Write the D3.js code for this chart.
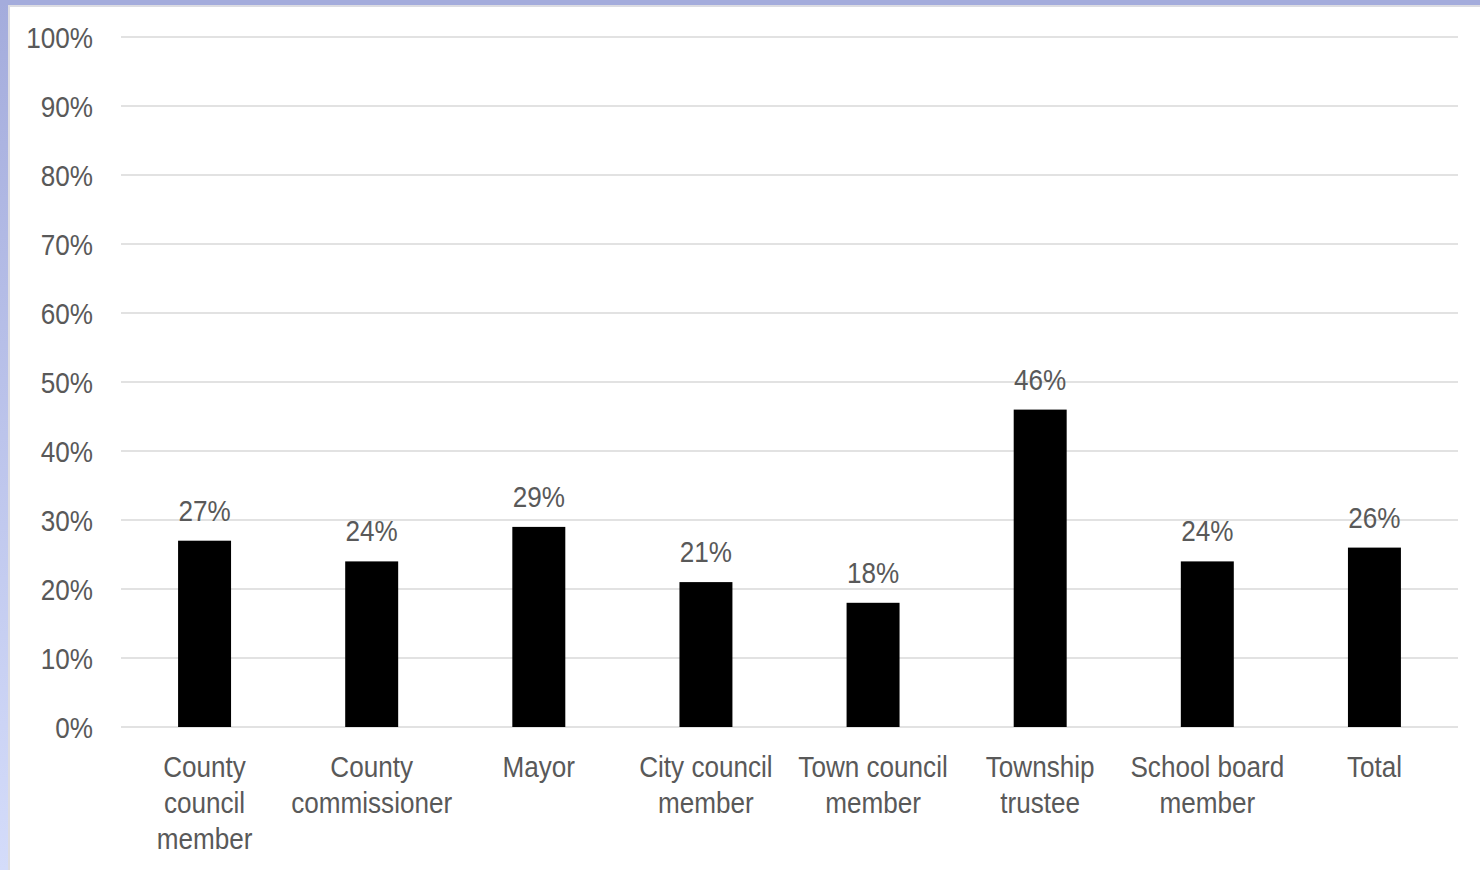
<!DOCTYPE html>
<html><head><meta charset="utf-8">
<script src="https://cdn.jsdelivr.net/npm/d3@7"></script>
<style>
html,body{margin:0;padding:0;background:#fff;}
svg{display:block;}
text{font-family:"Liberation Sans Narrow","Arial Narrow","Liberation Sans",Arial,sans-serif;fill:#595959;}
</style></head><body>
<svg id="c" width="1480" height="870"></svg>
<script>
const categories = [["County","council","member"],["County","commissioner"],["Mayor"],["City council","member"],["Town council","member"],["Township","trustee"],["School board","member"],["Total"]];
const values = [27,24,29,21,18,46,24,26];
const yTicks = [0,10,20,30,40,50,60,70,80,90,100];

const FS = 30, SX = 0.87;
const svg = d3.select("#c");
const defs = svg.append("defs");
const g1 = defs.append("linearGradient").attr("id","lg").attr("x1",0).attr("y1",0).attr("x2",0).attr("y2",1);
g1.append("stop").attr("offset","0%").attr("stop-color","#a4acdc");
g1.append("stop").attr("offset","100%").attr("stop-color","#d4dcfa");

svg.append("rect").attr("x",0).attr("y",0).attr("width",1480).attr("height",870).attr("fill","#fff");
svg.append("rect").attr("x",0).attr("y",0).attr("width",8).attr("height",870).attr("fill","url(#lg)");
svg.append("rect").attr("x",0).attr("y",0).attr("width",1480).attr("height",5).attr("fill","#a4acdc");
svg.append("rect").attr("x",8).attr("y",5).attr("width",1472).attr("height",2).attr("fill","#dcdce2");
svg.append("rect").attr("x",8).attr("y",5).attr("width",2).attr("height",865).attr("fill","#dcdce2");

const x = d3.scaleBand().domain(d3.range(categories.length)).range([121,1458]).paddingInner(0.683).paddingOuter(0.3415);
const y = d3.scaleLinear().domain([0,100]).range([727,37]);

const grid = svg.append("g");
grid.selectAll("line").data(yTicks).join("line")
  .attr("x1",121).attr("x2",1458).attr("y1",d=>y(d)).attr("y2",d=>y(d))
  .attr("stroke","#d9d9d9").attr("stroke-width",1.3);

const yAxis = d3.axisLeft(y).tickValues(yTicks).tickFormat(d=>d+"%").tickSize(0).tickPadding(0);
const ya = svg.append("g").attr("transform","translate(93,0)").call(yAxis);
ya.select(".domain").remove();
ya.attr("font-family",null).attr("font-size",null);
ya.selectAll("text").attr("font-size",FS).attr("x",0).attr("dy","0.35em").attr("fill","#595959")
  .attr("transform",`scale(${SX},1)`);

svg.append("g").selectAll("rect").data(values).join("rect")
  .attr("x",(d,i)=>x(i)).attr("width",x.bandwidth())
  .attr("y",d=>y(d)).attr("height",d=>y(0)-y(d)).attr("fill","#000");

svg.append("g").selectAll("text").data(values).join("text")
  .attr("transform",(d,i)=>`translate(${x(i)+x.bandwidth()/2},${y(d)-20}) scale(${SX},1)`)
  .attr("text-anchor","middle").attr("font-size",FS).text(d=>d+"%");

const xl = svg.append("g");
categories.forEach((lines,i)=>{
  const t = xl.append("text").attr("text-anchor","middle").attr("font-size",FS)
    .attr("transform",`translate(${x(i)+x.bandwidth()/2},777) scale(${SX},1)`);
  lines.forEach((l,j)=>t.append("tspan").attr("x",0).attr("y",j*36).text(l));
});
</script></body></html>
